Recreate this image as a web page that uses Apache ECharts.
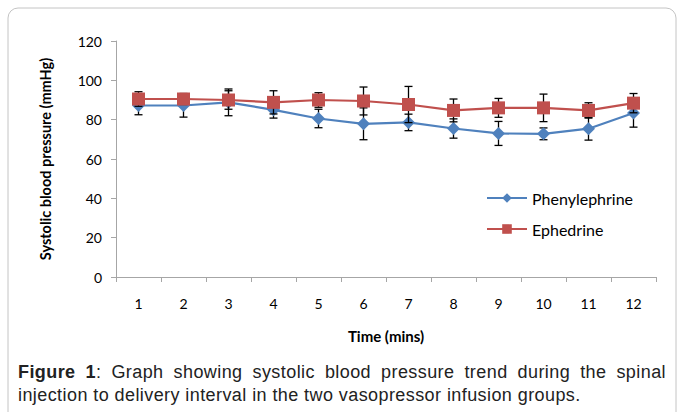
<!DOCTYPE html>
<html>
<head>
<meta charset="utf-8">
<script src="https://cdn.jsdelivr.net/npm/echarts@6/dist/echarts.min.js"></script>
<style>
  html, body { margin: 0; padding: 0; background: #fff; }
  #wrap { position: relative; width: 683px; height: 412px; overflow: hidden; }
  #chart { position: absolute; left: 0; top: 0; width: 683px; height: 412px; }
  .cap {
    position: absolute; left: 18px; width: 648px;
    font-family: "Liberation Sans", Arial, sans-serif; font-size: 18px; line-height: 23px;
    letter-spacing: 0.42px; color: #222; white-space: nowrap;
  }
  #cap1 { top: 361px; text-align: justify; text-align-last: justify; white-space: normal; }
  #cap2 { top: 384px; text-align: left; }
</style>
</head>
<body>
<div id="wrap">
  <div id="chart"></div>
  <div class="cap" id="cap1"><b>Figure 1</b>: Graph showing systolic blood pressure trend during the spinal</div>
  <div class="cap" id="cap2">injection to delivery interval in the two vasopressor infusion groups.</div>
</div>
<script>
// time points (mins)
var times = ['1', '2', '3', '4', '5', '6', '7', '8', '9', '10', '11', '12'];
// mean systolic BP and error bar half-lengths
var phenylephrine = [87.2, 87.2, 88.8, 85.0, 80.6, 77.9, 78.6, 75.5, 73.0, 72.8, 75.4, 83.4];
var phenylephrineErr = [4.7, 5.9, 6.8, 4.2, 4.7, 8.1, 4.2, 4.9, 6.1, 3.0, 5.8, 7.2];
var ephedrine = [90.5, 90.5, 90.0, 88.8, 90.0, 89.5, 87.7, 84.7, 86.0, 86.0, 84.7, 88.4];
var ephedrineErr = [3.7, 2.8, 4.7, 5.9, 3.7, 7.1, 9.2, 5.8, 4.8, 7.0, 3.9, 4.9];

var blue = '#4F81BD';
var red = '#C0504D';
var axisGray = '#a6a6a6';
var font = 'Lato, "Open Sans", sans-serif';

function errData(vals, errs) {
  return vals.map(function(v, i) { return [i, v, errs[i]]; });
}

function renderErr(params, api) {
  var i = api.value(0), v = api.value(1), e = api.value(2);
  var top = api.coord([i, v + e]);
  var bot = api.coord([i, v - e]);
  var cap = 4;
  var st = { stroke: '#000', lineWidth: 1.3 };
  return {
    type: 'group',
    children: [
      { type: 'line', shape: { x1: top[0], y1: top[1], x2: bot[0], y2: bot[1] }, style: st },
      { type: 'line', shape: { x1: top[0] - cap, y1: top[1], x2: top[0] + cap, y2: top[1] }, style: st },
      { type: 'line', shape: { x1: bot[0] - cap, y1: bot[1], x2: bot[0] + cap, y2: bot[1] }, style: st }
    ]
  };
}

var chart = echarts.init(document.getElementById('chart'), null, { renderer: 'svg' });
chart.setOption({
  animation: false,
  backgroundColor: '#fff',
  graphic: [{
    type: 'rect', silent: true, z: -1,
    shape: { x: 8, y: 8, width: 668, height: 430, r: 10 },
    style: { fill: 'none', stroke: '#c4c4c4', lineWidth: 1 }
  }],
  grid: { left: 116, right: 27, top: 41, bottom: 135 },
  legend: {
    orient: 'vertical', left: 481, top: 185, itemWidth: 40, itemHeight: 12, itemGap: 15,
    textStyle: { fontFamily: font, fontSize: 16, color: '#000' },
    data: ['Phenylephrine', 'Ephedrine']
  },
  xAxis: {
    type: 'category', data: times, boundaryGap: true,
    name: 'Time (mins)', nameLocation: 'middle', nameGap: 51,
    nameTextStyle: { fontFamily: font, fontSize: 15, fontWeight: 'bold', color: '#000' },
    axisLine: { lineStyle: { color: axisGray } },
    axisTick: { show: true, length: 5, lineStyle: { color: axisGray } },
    axisLabel: { fontFamily: font, fontSize: 14, color: '#000', margin: 19 }
  },
  yAxis: {
    type: 'value', min: 0, max: 120, interval: 20,
    name: 'Systolic blood pressure (mmHg)', nameLocation: 'middle', nameGap: 63,
    nameTextStyle: { fontFamily: font, fontSize: 14.5, fontWeight: 'bold', color: '#000' },
    axisLine: { show: true, lineStyle: { color: axisGray } },
    axisTick: { show: true, length: 5, lineStyle: { color: axisGray } },
    axisLabel: { fontFamily: font, fontSize: 14, color: '#000', margin: 14 },
    splitLine: { show: false }
  },
  series: [
    {
      type: 'custom', name: 'phenErr', z: 1, renderItem: renderErr,
      data: errData(phenylephrine, phenylephrineErr), encode: { x: 0, y: 1 }, silent: true
    },
    {
      name: 'Phenylephrine', type: 'line', z: 2, data: phenylephrine,
      symbol: 'diamond', symbolSize: 13,
      lineStyle: { color: blue, width: 2.2 }, itemStyle: { color: blue }
    },
    {
      type: 'custom', name: 'ephErr', z: 3, renderItem: renderErr,
      data: errData(ephedrine, ephedrineErr), encode: { x: 0, y: 1 }, silent: true
    },
    {
      name: 'Ephedrine', type: 'line', z: 4, data: ephedrine,
      symbol: 'rect', symbolSize: 13,
      lineStyle: { color: red, width: 2.2 }, itemStyle: { color: red }
    }
  ]
});
</script>
</body>
</html>
